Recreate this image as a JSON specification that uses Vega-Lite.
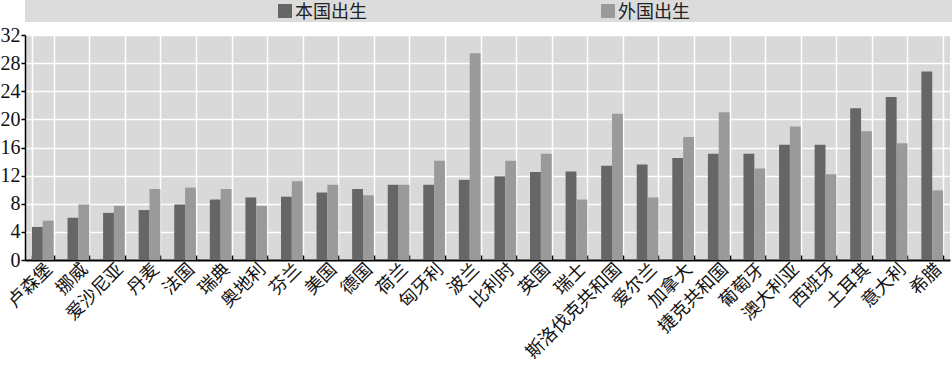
{
  "$schema": "https://vega.github.io/schema/vega-lite/v6.json",
  "padding": {"left": 0, "top": 0, "right": 0, "bottom": 0},
  "background": "white",
  "bounds": "flush",
  "spacing": 13,
  "config": {
    "font": "Noto Sans CJK SC",
    "view": {"stroke": null}
  },
  "datasets": {
    "series": [
      {"series": "本国出生"},
      {"series": "外国出生"}
    ],
    "rates": [
      {"country": "卢森堡", "series": "本国出生", "value": 4.7},
      {"country": "卢森堡", "series": "外国出生", "value": 5.6},
      {"country": "挪威", "series": "本国出生", "value": 6.0},
      {"country": "挪威", "series": "外国出生", "value": 7.9},
      {"country": "爱沙尼亚", "series": "本国出生", "value": 6.7},
      {"country": "爱沙尼亚", "series": "外国出生", "value": 7.7},
      {"country": "丹麦", "series": "本国出生", "value": 7.1},
      {"country": "丹麦", "series": "外国出生", "value": 10.1},
      {"country": "法国", "series": "本国出生", "value": 7.9},
      {"country": "法国", "series": "外国出生", "value": 10.3},
      {"country": "瑞典", "series": "本国出生", "value": 8.6},
      {"country": "瑞典", "series": "外国出生", "value": 10.1},
      {"country": "奥地利", "series": "本国出生", "value": 8.9},
      {"country": "奥地利", "series": "外国出生", "value": 7.7},
      {"country": "芬兰", "series": "本国出生", "value": 9.0},
      {"country": "芬兰", "series": "外国出生", "value": 11.2},
      {"country": "美国", "series": "本国出生", "value": 9.6},
      {"country": "美国", "series": "外国出生", "value": 10.7},
      {"country": "德国", "series": "本国出生", "value": 10.1},
      {"country": "德国", "series": "外国出生", "value": 9.2},
      {"country": "荷兰", "series": "本国出生", "value": 10.7},
      {"country": "荷兰", "series": "外国出生", "value": 10.7},
      {"country": "匈牙利", "series": "本国出生", "value": 10.7},
      {"country": "匈牙利", "series": "外国出生", "value": 14.1},
      {"country": "波兰", "series": "本国出生", "value": 11.4},
      {"country": "波兰", "series": "外国出生", "value": 29.4},
      {"country": "比利时", "series": "本国出生", "value": 11.9},
      {"country": "比利时", "series": "外国出生", "value": 14.1},
      {"country": "英国", "series": "本国出生", "value": 12.5},
      {"country": "英国", "series": "外国出生", "value": 15.1},
      {"country": "瑞士", "series": "本国出生", "value": 12.6},
      {"country": "瑞士", "series": "外国出生", "value": 8.6},
      {"country": "斯洛伐克共和国", "series": "本国出生", "value": 13.4},
      {"country": "斯洛伐克共和国", "series": "外国出生", "value": 20.8},
      {"country": "爱尔兰", "series": "本国出生", "value": 13.6},
      {"country": "爱尔兰", "series": "外国出生", "value": 8.9},
      {"country": "加拿大", "series": "本国出生", "value": 14.5},
      {"country": "加拿大", "series": "外国出生", "value": 17.5},
      {"country": "捷克共和国", "series": "本国出生", "value": 15.1},
      {"country": "捷克共和国", "series": "外国出生", "value": 21.0},
      {"country": "葡萄牙", "series": "本国出生", "value": 15.1},
      {"country": "葡萄牙", "series": "外国出生", "value": 13.0},
      {"country": "澳大利亚", "series": "本国出生", "value": 16.4},
      {"country": "澳大利亚", "series": "外国出生", "value": 19.0},
      {"country": "西班牙", "series": "本国出生", "value": 16.4},
      {"country": "西班牙", "series": "外国出生", "value": 12.2},
      {"country": "土耳其", "series": "本国出生", "value": 21.6},
      {"country": "土耳其", "series": "外国出生", "value": 18.3},
      {"country": "意大利", "series": "本国出生", "value": 23.2},
      {"country": "意大利", "series": "外国出生", "value": 16.6},
      {"country": "希腊", "series": "本国出生", "value": 26.8},
      {"country": "希腊", "series": "外国出生", "value": 9.9}
    ]
  },
  "vconcat": [
    {
      "width": 927,
      "height": 22,
      "view": {"fill": "#dcdcdc", "stroke": null},
      "data": {"name": "series"},
      "encoding": {
        "x": {
          "field": "series",
          "type": "nominal",
          "sort": null,
          "scale": {"type": "point", "range": [260, 583], "padding": 0},
          "axis": null
        }
      },
      "layer": [
        {
          "mark": {"type": "square", "size": 196, "opacity": 1, "filled": true},
          "encoding": {
            "color": {
              "field": "series",
              "type": "nominal",
              "scale": {"domain": ["本国出生", "外国出生"], "range": ["#666666", "#9a9a9a"]},
              "legend": null
            }
          }
        },
        {
          "mark": {"type": "text", "align": "left", "baseline": "middle", "dx": 10, "dy": 2, "fontSize": 18, "font": "Noto Sans CJK SC", "color": "#222222"},
          "encoding": {"text": {"field": "series"}}
        }
      ]
    },
    {
      "width": 925,
      "height": 225,
      "view": {"fill": "#d9d9d9", "stroke": null},
      "data": {"name": "rates"},
      "mark": {"type": "bar"},
      "encoding": {
        "x": {
          "field": "country",
          "type": "nominal",
          "sort": null,
          "scale": {"paddingInner": 0.39, "paddingOuter": 0.195},
          "axis": {
            "title": null,
            "labelAngle": -45,
            "tickBand": "extent",
            "grid": true,
            "gridColor": "white",
            "gridWidth": 1.5,
            "tickSize": -5,
            "tickColor": "black",
            "tickWidth": 1.5,
            "domainColor": "black",
            "domainWidth": 2,
            "labelFont": "Noto Sans CJK SC",
            "labelFontSize": 18,
            "labelColor": "#111111",
            "labelPadding": 5
          }
        },
        "xOffset": {
          "field": "series",
          "type": "nominal",
          "sort": ["本国出生", "外国出生"],
          "scale": {"paddingInner": 0, "paddingOuter": 0}
        },
        "y": {
          "field": "value",
          "type": "quantitative",
          "scale": {"domain": [0, 32], "nice": false},
          "axis": {
            "title": null,
            "values": [0, 4, 8, 12, 16, 20, 24, 28, 32],
            "grid": true,
            "gridColor": "white",
            "gridWidth": 1.5,
            "tickSize": 4,
            "tickColor": "black",
            "tickWidth": 1.5,
            "domainColor": "black",
            "domainWidth": 1.5,
            "labelFont": "Liberation Serif",
            "labelFontSize": 20,
            "labelColor": "#111111",
            "labelPadding": 1
          }
        },
        "color": {
          "field": "series",
          "type": "nominal",
          "scale": {"domain": ["本国出生", "外国出生"], "range": ["#666666", "#9a9a9a"]},
          "legend": null
        }
      }
    }
  ]
}
